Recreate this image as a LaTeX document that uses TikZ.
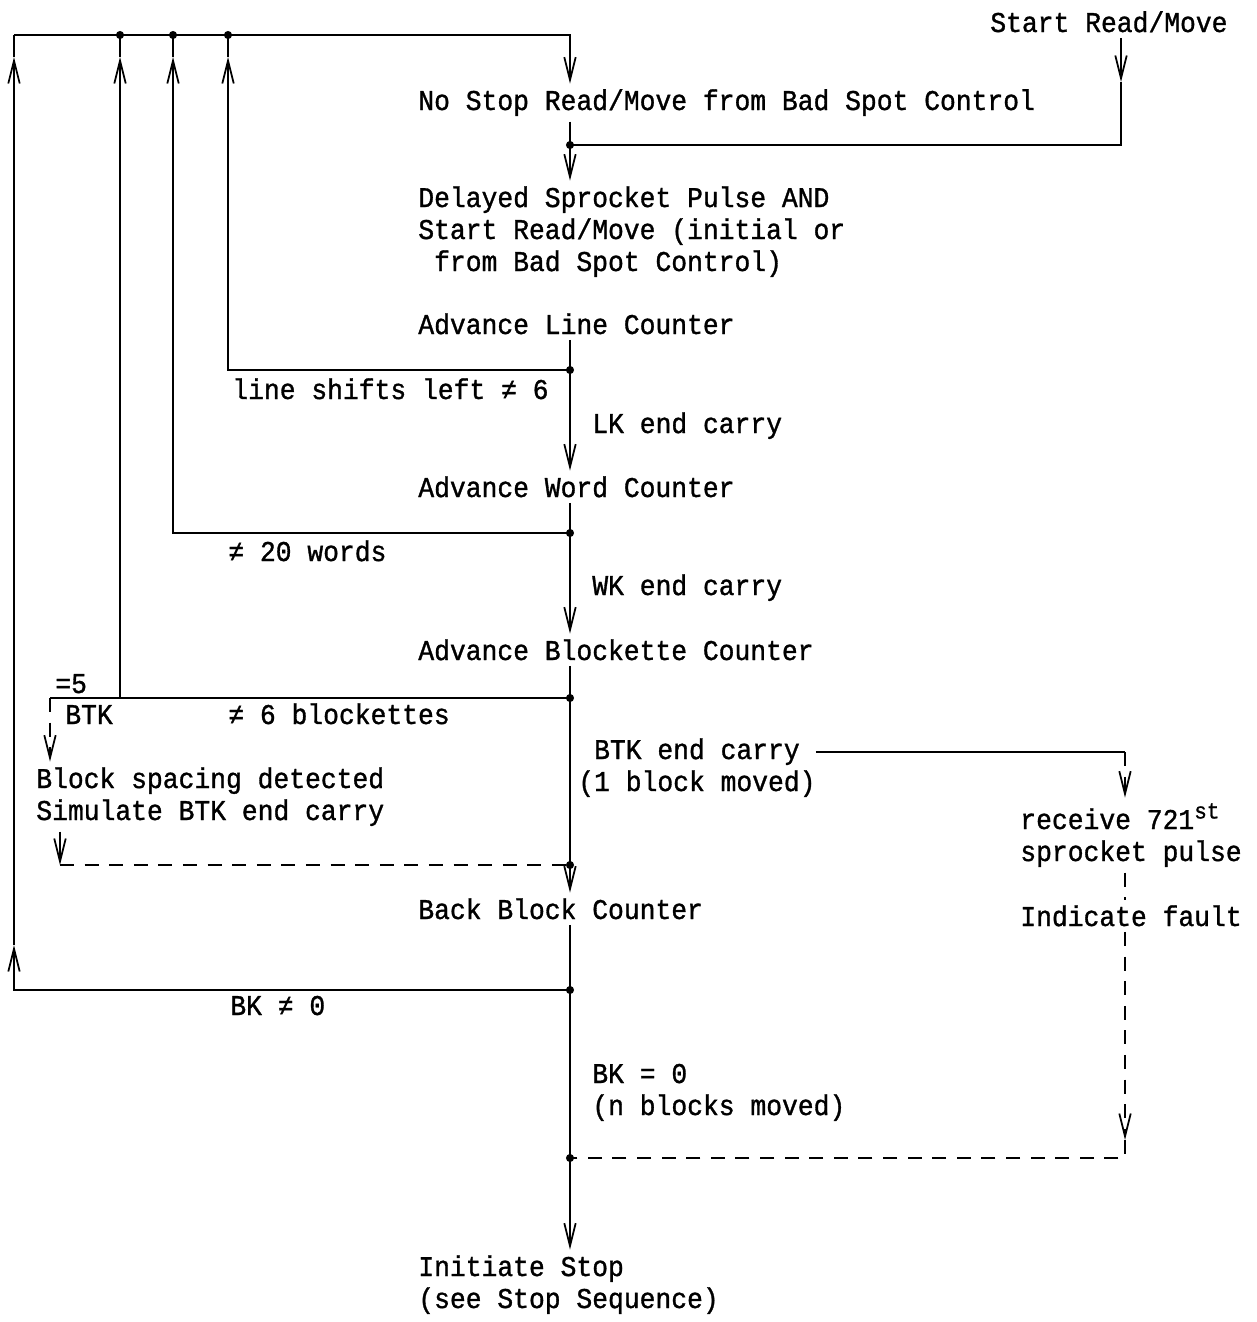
\documentclass[tikz,border=0pt]{standalone}
\usepackage{fontspec}
\usetikzlibrary{arrows.meta, positioning}
\newfontfamily\twfont[FakeStretch=0.92, FakeBold=1.1]{Liberation Mono}
\newcommand{\flowfont}{\twfont\fontsize{16.3pt}{18.2pt}\selectfont}
\newcommand{\supst}{\raisebox{6pt}{\fontsize{13pt}{13pt}\selectfont st}}
\tikzset{
    txt/.style={anchor=base west, inner xsep=0pt, inner ysep=3pt,
                align=left, font=\flowfont},
    wire/.style={line width=1pt},
    flow/.style={wire, -{Straight Barb[length=13pt, width=6.5pt]}},
    dwire/.style={wire, dash pattern=on 8pt off 6pt},
    dflow/.style={dwire, -{Straight Barb[length=13pt, width=6.5pt]}},
}

\begin{document}
\begin{tikzpicture}[x=0.02cm, y=-0.02cm]
    \useasboundingbox (0,0) rectangle (1257,1322);
    % texts (multi-line nodes sit on the baseline of their last line)
    \node[txt] (start) at (990,32) {Start Read/Move};
    \node[txt] (nostop) at (418,110) {No Stop Read/Move from Bad Spot Control};
    \node[txt] (delay) at (418,271) {Delayed Sprocket Pulse AND\\Start Read/Move (initial or\\\hphantom{x}from Bad Spot Control)};
    \node[txt] (advline) at (418,334) {Advance Line Counter};
    \node[txt] (lshift) at (232,399) {line shifts left ≠ 6};
    \node[txt] (lkc) at (592,433) {LK end carry};
    \node[txt] (advword) at (418,497) {Advance Word Counter};
    \node[txt] (w20) at (228,561) {≠ 20 words};
    \node[txt] (wkc) at (592,595) {WK end carry};
    \node[txt] (advblk) at (418,660) {Advance Blockette Counter};
    \node[txt] (eq5) at (55,693) {=5};
    \node[txt] (btk) at (65,724) {BTK};
    \node[txt] (b6) at (228,724) {≠ 6 blockettes};
    \node[txt] (btkc) at (578,791) {\hphantom{(}BTK end carry\\(1 block moved)};
    \node[txt] (bsd) at (36,820) {Block spacing detected\\Simulate BTK end carry};
    \node[txt] (rcv) at (1020,861) {receive 721\supst\\sprocket pulse};
    \node[txt] (fault) at (1020,926) {Indicate fault};
    \node[txt] (backblk) at (418,919) {Back Block Counter};
    \node[txt] (bkne) at (230,1015) {BK ≠ 0};
    \node[txt] (bkeq) at (592,1115) {BK = 0\\(n blocks moved)};
    \node[txt] (stop) at (418,1308) {Initiate Stop\\(see Stop Sequence)};

    % junctions and corners
    \coordinate (busL) at (14,35);
    \coordinate (busR) at (570,35);
    \coordinate (j1) at (120,35);
    \coordinate (j2) at (173,35);
    \coordinate (j3) at (228,35);
    \coordinate (a1) at (120,57);
    \coordinate (a2) at (173,57);
    \coordinate (a3) at (228,57);
    \coordinate (sA) at (1121,82);
    \coordinate (sR) at (1121,145);
    \coordinate (jM) at (570,145);
    \coordinate (jL) at (570,370);
    \coordinate (jW) at (570,533);
    \coordinate (jB) at (570,698);
    \coordinate (bL) at (50,698);
    \coordinate (bB) at (120,698);
    \coordinate (dL) at (60,865);
    \coordinate (jD) at (570,865);
    \coordinate (jK) at (570,990);
    \coordinate (aL1) at (14,945);
    \coordinate (aL2) at (14,57);
    \coordinate (cR) at (1125,752);
    \coordinate (fA) at (1125,1140);
    \coordinate (fJ) at (1125,1158);
    \coordinate (jF) at (570,1158);

    % main flow
    \draw[flow] (busL) -- (busR) -- (busR |- nostop.north);
    \draw[flow] (start.south -| sR) -- (sA);
    \draw[wire] (sA) -- (sR) -- (jM);
    \draw[wire] (nostop.south -| jM) -- (jM);
    \draw[flow] (jM) -- (jM |- delay.north);
    \draw[wire] (advline.south -| jL) -- (jL);
    \draw[flow] (jL) -- (jL |- advword.north);
    \draw[wire] (advword.south -| jW) -- (jW);
    \draw[flow] (jW) -- (jW |- advblk.north);
    \draw[wire] (advblk.south -| jB) -- (jB);
    \draw[flow] (jB) -- (jB |- backblk.north);
    \draw[wire] (backblk.south -| jK) -- (jK);
    \draw[flow] (jK) -- (jK |- stop.north);

    % loops back to the top
    \draw[flow] (jL) -| (a3);
    \draw[wire] (a3) -- (j3);
    \draw[flow] (jW) -| (a2);
    \draw[wire] (a2) -- (j2);
    \draw[wire] (jB) -- (bL);
    \draw[flow] (bB) -- (a1);
    \draw[wire] (a1) -- (j1);
    \draw[flow] (jK) -| (aL1);
    \draw[flow] (aL1) -- (aL2);
    \draw[wire] (aL2) -- (busL);

    % block spacing branch
    \draw[dflow] (bL) -- (bL |- bsd.north);
    \draw[flow] (bsd.south -| dL) -- (dL);
    \draw[dwire] (dL) -- (jD);

    % fault branch
    \draw[wire] (btkc.east |- cR) -- (cR);
    \draw[dflow] (cR) -- (cR |- rcv.north);
    \draw[dwire] (rcv.south -| cR) -- (cR |- fault.north);
    \draw[dflow] (fault.south -| cR) -- (fA);
    \draw[dwire] (fA) -- (fJ) -- (jF);

    \foreach \p in {j1,j2,j3,jM,jL,jW,jB,jD,jK,jF}
        \fill (\p) circle (2.3pt);
\end{tikzpicture}
\end{document}
